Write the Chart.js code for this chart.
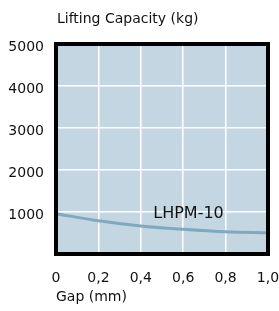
<!DOCTYPE html>
<html>
<head>
<meta charset="utf-8">
<script src="https://cdn.jsdelivr.net/npm/chart.js@4"></script>
<style>
  html, body { margin: 0; padding: 0; background: #fff; }
  #wrap { width: 279px; height: 311px; position: relative; }
</style>
</head>
<body>
<div id="wrap"><canvas id="chart"></canvas></div>
<script>
/* Lifting capacity vs gap — LHPM-10 */

const GAP_MM        = [0, 0.2, 0.4, 0.6, 0.8, 1.0];
const CAPACITY_KG   = [960, 790, 668, 590, 530, 505];
const X_TICK_LABELS = ['0', '0,2', '0,4', '0,6', '0,8', '1,0'];
const SERIES_NAME   = 'LHPM-10';
const Y_TITLE       = 'Lifting Capacity (kg)';
const X_TITLE       = 'Gap (mm)';

const FONT = 'DejaVu Sans';
const BG   = '#c3d6e2';
const LINE = '#80a9c0';

// series name sits inside the plot, placed in data units
const NAME_AT = { gap: 0.625, kg: 850 };

// plot fill, black frame, in-plot label and the top-left title
const panel = {
  id: 'panel',
  beforeDraw(chart) {
    const { ctx, chartArea: a } = chart;
    ctx.save();
    ctx.fillStyle = BG;
    ctx.fillRect(a.left, a.top, a.right - a.left, a.bottom - a.top);
    ctx.restore();
  },
  afterDatasetsDraw(chart) {
    const { ctx, chartArea: a, scales } = chart;
    ctx.save();
    ctx.strokeStyle = '#000';
    ctx.lineWidth = 4;
    ctx.strokeRect(a.left, a.top, a.right - a.left, a.bottom - a.top);

    ctx.fillStyle = '#111';
    ctx.font = `16px "${FONT}"`;
    ctx.textAlign = 'center';
    ctx.textBaseline = 'alphabetic';
    ctx.fillText(SERIES_NAME, scales.x.getPixelForValue(NAME_AT.gap), scales.y.getPixelForValue(NAME_AT.kg));

    ctx.font = `14px "${FONT}"`;
    ctx.textAlign = 'left';
    ctx.fillText(Y_TITLE, a.left + 1, 23);
    ctx.restore();
  },
};

new Chart(document.getElementById('chart'), {
  type: 'line',
  data: {
    datasets: [{
      label: SERIES_NAME,
      data: GAP_MM.map((g, i) => ({ x: g, y: CAPACITY_KG[i] })),
      borderColor: LINE, borderWidth: 3,
      pointRadius: 0, fill: false,
      cubicInterpolationMode: 'monotone',
    }],
  },
  options: {
    responsive: true, maintainAspectRatio: false, animation: false,
    layout: { padding: { top: 44, right: 11, left: 0, bottom: 0 } },
    plugins: { legend: { display: false }, tooltip: { enabled: false } },
    scales: {
      x: {
        type: 'linear', min: 0, max: 1,
        // tick padding would otherwise widen the side margins
        afterFit: s => { s.height = 57; s.paddingLeft = 0; s.paddingRight = 0; },
        grid: { color: '#fff', lineWidth: 1.5, drawTicks: false },
        border: { display: false },
        ticks: {
          stepSize: 0.2, padding: 16, color: '#111',
          font: { family: FONT, size: 14 },
          callback: (v, i) => X_TICK_LABELS[i],
        },
        title: {
          display: true, text: X_TITLE, align: 'start', color: '#111',
          font: { family: FONT, size: 14 },
          padding: { top: 0, bottom: 5 },
        },
      },
      y: {
        min: 0, max: 5000,
        afterFit: s => { s.width = 56; },
        grid: { color: '#fff', lineWidth: 1.5, drawTicks: false },
        border: { display: false },
        ticks: {
          stepSize: 1000, padding: 12, labelOffset: 3, color: '#111',
          font: { family: FONT, size: 14 },
          callback: v => (v === 0 ? '' : v),
        },
      },
    },
  },
  plugins: [panel],
});
</script>
</body>
</html>
